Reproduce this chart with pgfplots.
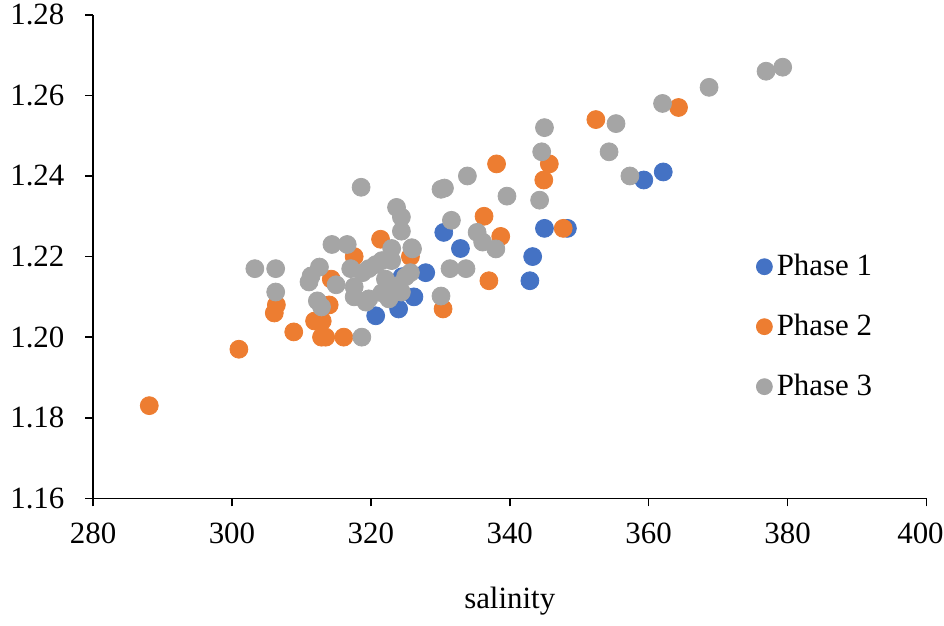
\documentclass[border={0pt 0pt -5pt -3pt}]{standalone}
\usepackage{pgfplots}
\pgfplotsset{compat=1.18}
\usepackage{fontspec}
\setmainfont{Liberation Serif}
\definecolor{pblue}{HTML}{4472C4}
\definecolor{porange}{HTML}{ED7D31}
\definecolor{pgray}{HTML}{A5A5A5}
\begin{document}
\fontsize{15.5}{18}\selectfont
\begin{tikzpicture}
\begin{axis}[
  scale only axis,
  width=418pt, height=242.5pt,
  xmin=280, xmax=400, ymin=1.16, ymax=1.28,
  xtick={280,300,...,380},
  extra x ticks={400},
  extra x tick style={xticklabel style={xshift=-3pt}},
  ytick={1.16,1.18,...,1.281},
  axis x line*=bottom, axis y line*=left,
  axis line style={black, line width=0.8pt},
  tick style={black, line width=0.8pt},
  tick align=outside, major tick length=4pt,
  /pgf/number format/assume math mode=true,
  yticklabel style={/pgf/number format/fixed, /pgf/number format/fixed zerofill, /pgf/number format/precision=2, xshift=-5pt},
  xticklabel style={/pgf/number format/set thousands separator={}, yshift=-3pt},
  ticklabel style={font=\fontsize{15.5}{18}\selectfont},
  xlabel={salinity},
  xlabel style={font=\fontsize{15.5}{18}\selectfont, yshift=-3pt},
  legend style={at={(0.795,0.355)}, anchor=west, draw=none, fill=none,
    font=\fontsize{15.5}{18}\selectfont, row sep=13pt, inner sep=0pt},
  legend cell align=left,
  legend image code/.code={\fill[#1] (0.05cm,0cm) circle (4pt);},
  clip=false,
]
\addplot[only marks, mark=*, mark size=4.5pt, color=pblue, mark options={draw=pblue, fill=pblue}] coordinates {
(320.7,1.2053) (324.0,1.2070) (326.2,1.2100) (324.5,1.2150) (327.9,1.2160)
(330.5,1.2260) (332.9,1.2220) (343.3,1.2200) (342.9,1.2140) (345.0,1.2270)
(348.3,1.2270) (359.3,1.2390) (362.1,1.2410)
};
\addlegendentry{Phase 1}
\addplot[only marks, mark=*, mark size=4.5pt, color=porange, mark options={draw=porange, fill=porange}] coordinates {
(288.1,1.1830) (301.0,1.1970) (308.9,1.2013) (306.1,1.2060) (306.4,1.2080)
(311.9,1.2040) (313.0,1.2040) (312.9,1.2000) (313.5,1.2000) (316.1,1.2000)
(314.3,1.2144) (314.0,1.2080) (317.6,1.2200) (321.4,1.2243) (325.7,1.2200)
(330.4,1.2070) (336.3,1.2300) (337.0,1.2140) (338.1,1.2430) (338.7,1.2250)
(344.9,1.2390) (345.7,1.2430) (347.7,1.2270) (352.4,1.2540) (364.3,1.2570)
};
\addlegendentry{Phase 2}
\addplot[only marks, mark=*, mark size=4.5pt, color=pgray, mark options={draw=pgray, fill=pgray}] coordinates {
(303.3,1.2170) (306.3,1.2170) (306.3,1.2112) (311.1,1.2137) (311.4,1.2152)
(312.6,1.2174) (312.3,1.2090) (312.9,1.2075) (314.4,1.2230) (316.6,1.2230)
(315.0,1.2130) (317.1,1.2170) (317.6,1.2125) (317.6,1.2100) (318.6,1.2372)
(318.7,1.2000) (319.3,1.2087) (318.8,1.2160) (319.7,1.2170) (320.7,1.2180)
(321.6,1.2190) (323.0,1.2190) (322.1,1.2144) (321.6,1.2110) (323.6,1.2127)
(325.0,1.2150) (325.7,1.2160) (324.4,1.2112) (322.6,1.2095) (319.7,1.2095)
(323.0,1.2220) (325.9,1.2222) (323.7,1.2322) (324.4,1.2298) (324.4,1.2263)
(326.0,1.2219) (330.1,1.2102) (330.1,1.2367) (330.6,1.2370) (331.4,1.2170)
(333.7,1.2170) (331.6,1.2290) (333.9,1.2400) (335.3,1.2260) (336.1,1.2236)
(338.0,1.2219) (339.6,1.2350) (344.3,1.2340) (344.6,1.2460) (345.0,1.2520)
(354.3,1.2460) (355.3,1.2530) (357.3,1.2400) (362.0,1.2580) (368.7,1.2620)
(376.9,1.2660) (379.3,1.2670)
};
\addlegendentry{Phase 3}
\end{axis}
\end{tikzpicture}
\end{document}
